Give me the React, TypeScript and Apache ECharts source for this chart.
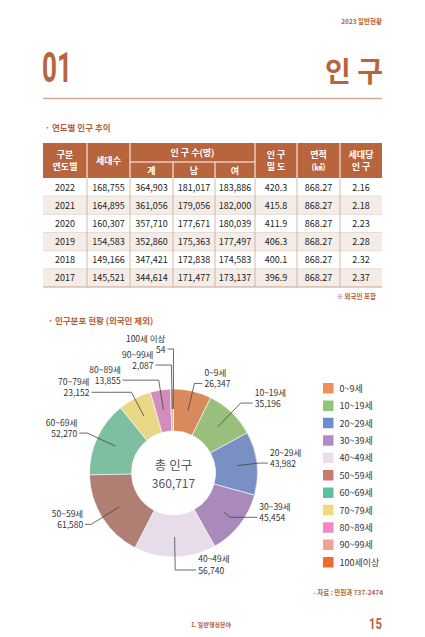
import React, { useEffect, useRef } from 'react';
import * as echarts from 'echarts';

// ---- table data ----
const years = ['2022', '2021', '2020', '2019', '2018', '2017'];
const households = [168755, 164895, 160307, 154583, 149166, 145521];
const popTotal = [364903, 361056, 357710, 352860, 347421, 344614];
const popMale = [181017, 179056, 177671, 175363, 172838, 171477];
const popFemale = [183886, 182000, 180039, 177497, 174583, 173137];
const density = [420.3, 415.8, 411.9, 406.3, 400.1, 396.9];
const areaKm2 = [868.27, 868.27, 868.27, 868.27, 868.27, 868.27];
const perHousehold = [2.16, 2.18, 2.23, 2.28, 2.32, 2.37];

// ---- donut data ----
const ageGroups = ['0~9세', '10~19세', '20~29세', '30~39세', '40~49세', '50~59세', '60~69세', '70~79세', '80~89세', '90~99세', '100세이상'];
const ageLabels = ['0~9세', '10~19세', '20~29세', '30~39세', '40~49세', '50~59세', '60~69세', '70~79세', '80~89세', '90~99세', '100세 이상'];
const ageValues = [26347, 35196, 43982, 45454, 56740, 61580, 52270, 23152, 13855, 2087, 54];

// ---- styling (not data) ----
const sliceColors = ['#d98a5c', '#9abf7c', '#7a8fc4', '#a98aba', '#e7dcea', '#b07e72', '#7dbfa0', '#e8d886', '#d38dbd', '#e9a898', '#e06b3c'];
const legendColors = ['#f0915c', '#8dc873', '#6a8fd0', '#b48ac6', '#ecdcee', '#c77b6d', '#5cc29e', '#f1da7c', '#f28ac1', '#f0a394', '#ef6b2f'];
const leaderLens: [number, number][] = [
  [28, 8], [33, 12], [22, 9], [8, 27], [33, 21], [33, 6], [31, 8], [27, 40], [30, 36], [44, 16], [60, 6],
];

const FONT = '"Noto Sans CJK KR", "Noto Sans", sans-serif';
const BROWN = '#b8643c';
const TEXT_BROWN = '#b5603a';

const fmt = (n: number) => String(n).replace(/\B(?=(\d{3})+(?!\d))/g, ',');

function buildTable(): any[] {
  const els: any[] = [];
  const colX = [43, 87, 130, 173, 215, 255, 297, 340, 382];
  const top = 143, mid = 162, bottom = 178, tableBottom = 287;
  const rowH = (tableBottom - bottom) / years.length;
  const cx = (j: number) => (colX[j] + colX[j + 1]) / 2;
  const t = (x: number, y: number, text: string, opts: any = {}) => ({
    type: 'text', x, y, silent: true,
    style: { text, fill: opts.fill || '#222', fontSize: opts.size || 9, fontWeight: opts.weight || 'normal', fontFamily: FONT, align: opts.align || 'center', verticalAlign: 'middle' },
  });
  const line = (x1: number, y1: number, x2: number, y2: number, stroke: string, w = 0.8) => ({
    type: 'line', silent: true, shape: { x1, y1, x2, y2 }, style: { stroke, lineWidth: w },
  });
  els.push({ type: 'rect', silent: true, shape: { x: colX[0], y: top, width: colX[8] - colX[0], height: bottom - top }, style: { fill: BROWN } });
  years.forEach((_, i) => {
    if (i % 2 === 1) {
      els.push({ type: 'rect', silent: true, shape: { x: colX[0], y: bottom + rowH * i, width: colX[8] - colX[0], height: rowH }, style: { fill: '#f4ece6' } });
    }
  });
  [1, 2, 5, 6, 7].forEach((j) => els.push(line(colX[j], top, colX[j], bottom, '#ffffff', 1)));
  [3, 4].forEach((j) => els.push(line(colX[j], mid, colX[j], bottom, '#ffffff', 1)));
  els.push(line(colX[2], mid, colX[5], mid, '#ffffff', 1));
  const W = { fill: '#ffffff', weight: 'bold', size: 9 };
  els.push(t(cx(0), 154, '구분', W), t(cx(0), 166, '연도별', W));
  els.push(t(cx(1), 160, '세대수', W));
  els.push(t((colX[2] + colX[5]) / 2, 152, '인 구 수(명)', W));
  els.push(t(cx(2), 170.5, '계', W), t(cx(3), 170.5, '남', W), t(cx(4), 170.5, '여', W));
  els.push(t(cx(5), 154, '인 구', W), t(cx(5), 166, '밀 도', W));
  els.push(t(cx(6), 154, '면적', W), t(cx(6), 166, '(㎢)', { ...W, size: 8 }));
  els.push(t(cx(7), 154, '세대당', W), t(cx(7), 166, '인 구', W));
  for (let i = 1; i < years.length; i++) {
    els.push(line(colX[0], bottom + rowH * i, colX[8], bottom + rowH * i, '#e2d6ce', 0.8));
  }
  els.push(line(colX[0], tableBottom, colX[8], tableBottom, '#c9a28c', 1));
  for (let j = 1; j < 8; j++) els.push(line(colX[j], bottom, colX[j], tableBottom, '#c8a896', 0.8));
  years.forEach((y, i) => {
    const yy = bottom + rowH * (i + 0.5);
    const vals = [y, fmt(households[i]), fmt(popTotal[i]), fmt(popMale[i]), fmt(popFemale[i]), density[i].toFixed(1), areaKm2[i].toFixed(2), perHousehold[i].toFixed(2)];
    vals.forEach((v, j) => els.push(t(cx(j), yy, v)));
  });
  return els;
}

export default function App() {
  const ref = useRef<HTMLDivElement>(null);
  useEffect(() => {
    if (!ref.current) return;
    const chart = echarts.init(ref.current, undefined, { renderer: 'svg' });
    const total = ageValues.reduce((a, b) => a + b, 0);
    const center = [173.5, 473];
    const txt = (x: number, y: number, text: string, size: number, fill: string, align = 'left', weight: any = 'normal', extra: any = {}) => ({
      type: 'text', x, y, silent: true, ...extra,
      style: { text, fill, fontSize: size, fontWeight: weight, fontFamily: extra.fontFamily || FONT, align, verticalAlign: 'middle' },
    });
    const graphics: any[] = [
      txt(382, 21, '2023 일반현황', 6.5, TEXT_BROWN, 'right', 'bold'),
      { type: 'text', x: 42, y: 68.5, scaleX: 0.62, silent: true, style: { text: '01', fill: BROWN, fontSize: 42, fontWeight: 'bold', fontFamily: 'Roboto', align: 'left', verticalAlign: 'middle' } },
      txt(383, 70, '인 구', 28, BROWN, 'right', 'bold'),
      { type: 'line', silent: true, shape: { x1: 43, y1: 98.5, x2: 382, y2: 98.5 }, style: { stroke: '#d8a68b', lineWidth: 1.5 } },
      txt(45, 127, '· 연도별 인구 추이', 8.5, TEXT_BROWN, 'left', 'bold'),
      ...buildTable(),
      txt(376, 296, '※ 외국인 포함', 6.5, TEXT_BROWN, 'right', 'bold'),
      txt(48, 320, '· 인구분포 현황 (외국인 제외)', 8.5, TEXT_BROWN, 'left', 'bold'),
      txt(center[0], 464, '총 인구', 12.5, '#555555', 'center'),
      txt(center[0], 482.5, fmt(total), 12, '#555555', 'center'),
      txt(383, 592, '- 자료 : 민원과 737-2474', 6.5, TEXT_BROWN, 'right', 'bold'),
      txt(211, 624, '1. 일반행정분야', 6, TEXT_BROWN, 'center', 'bold'),
      { type: 'text', x: 382, y: 624, scaleX: 0.75, silent: true, style: { text: '15', fill: BROWN, fontSize: 15, fontWeight: 'bold', fontFamily: 'Roboto', align: 'right', verticalAlign: 'middle' } },
    ];
    chart.setOption({
      animation: false,
      backgroundColor: '#ffffff',
      legend: {
        orient: 'vertical', left: 321, top: 381, itemWidth: 12.5, itemHeight: 12.5, itemGap: 2.9, padding: 0,
        icon: 'rect', selectedMode: false,
        textStyle: { fontSize: 9, lineHeight: 12, color: '#333333', fontFamily: FONT },
        data: ageGroups.map((n, i) => ({ name: n, itemStyle: { color: legendColors[i] } })),
      },
      graphic: { elements: graphics },
      series: [
        {
          type: 'pie', center, radius: [42, 84], startAngle: 90, clockwise: true, silent: true,
          label: { show: false }, labelLine: { show: false },
          itemStyle: { borderColor: '#ffffff', borderWidth: 0.6 },
          data: ageGroups.map((n, i) => ({ name: n, value: ageValues[i], itemStyle: { color: sliceColors[i] } })),
        },
        {
          type: 'pie', center, radius: [0, 64], startAngle: 90, clockwise: true, silent: true, z: 5,
          avoidLabelOverlap: false, minShowLabelAngle: 0,
          labelLayout: { hideOverlap: false },
          itemStyle: { color: 'rgba(0,0,0,0)', borderWidth: 0 },
          label: {
            show: true, position: 'outside', alignTo: 'none', distanceToLabelLine: 2,
            padding: [0, 0, 11.5, 0],
            formatter: (p: any) => `{n|${ageLabels[p.dataIndex]}}\n{v|${fmt(p.value)}}`,
            rich: {
              n: { fontSize: 8.5, lineHeight: 11.5, color: '#333333', fontFamily: FONT },
              v: { fontSize: 8.5, lineHeight: 11.5, color: '#333333', fontFamily: FONT },
            },
          },
          labelLine: { show: true, smooth: false, lineStyle: { color: '#444444', width: 0.8 } },
          data: ageGroups.map((n, i) => ({
            name: n, value: ageValues[i],
            labelLine: { length: leaderLens[i][0], length2: leaderLens[i][1] },
          })),
        },
      ],
    });
    return () => chart.dispose();
  }, []);
  return <div ref={ref} style={{ position: 'fixed', left: 0, top: 0, width: 425, height: 637 }} />;
}
